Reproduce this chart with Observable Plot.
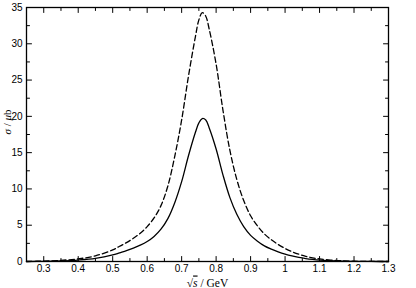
<!DOCTYPE html>
<html>
<head>
<meta charset="utf-8">
<script src="https://cdn.jsdelivr.net/npm/d3@7"></script>
<script src="https://cdn.jsdelivr.net/npm/@observablehq/plot@0.6"></script>
<style>
  html, body { margin: 0; padding: 0; background: white; }
</style>
</head>
<body>
<div id="chart"></div>
<script>
// energies (GeV)
const sqrtS = [0.25, 0.30, 0.35, 0.40, 0.45, 0.50, 0.52, 0.54, 0.56, 0.58, 0.60, 0.62, 0.64, 0.66, 0.68, 0.70, 0.72, 0.74, 0.75, 0.76, 0.77, 0.78, 0.80, 0.82, 0.84, 0.86, 0.88, 0.90, 0.92, 0.94, 0.96, 0.98, 1.00, 1.02, 1.04, 1.06, 1.08, 1.10, 1.15, 1.20, 1.25, 1.30];
// solid curve (μb)
const sigmaSolid = [0.0, 0.03, 0.09, 0.2, 0.42, 0.9, 1.2, 1.5, 1.85, 2.25, 2.75, 3.45, 4.45, 5.9, 8.1, 11.0, 14.6, 17.8, 19.1, 19.7, 19.5, 18.4, 15.5, 11.9, 8.8, 6.5, 4.8, 3.6, 2.8, 2.15, 1.7, 1.33, 1.02, 0.77, 0.57, 0.41, 0.29, 0.2, 0.07, 0.02, 0.005, 0.0];
// dashed curve (μb)
const sigmaDashed = [0.0, 0.06, 0.16, 0.36, 0.78, 1.6, 2.1, 2.6, 3.2, 3.9, 4.8, 6.0, 7.7, 10.4, 14.5, 19.5, 25.6, 31.0, 33.3, 34.3, 33.8, 32.0, 27.2, 20.8, 15.3, 11.3, 8.4, 6.3, 4.9, 3.8, 3.0, 2.35, 1.8, 1.35, 1.0, 0.72, 0.5, 0.35, 0.13, 0.04, 0.01, 0.0];

const xTickLabels = [0.3, 0.4, 0.5, 0.6, 0.7, 0.8, 0.9, 1, 1.1, 1.2, 1.3];
const xMinorTicks = [0.25, 0.35, 0.45, 0.55, 0.65, 0.75, 0.85, 0.95, 1.05, 1.15, 1.25];
const yTickLabels = [0, 5, 10, 15, 20, 25, 30, 35];
const yMinorTicks = [2.5, 7.5, 12.5, 17.5, 22.5, 27.5, 32.5];

const xLabel = "√s / GeV";
const yLabel = "σ / μb";

const rows = sqrtS.map((x, i) => ({x, solid: sigmaSolid[i], dashed: sigmaDashed[i]}));

const tickShape = {draw(context, l) { context.moveTo(0, 0); context.lineTo(0, -l); }};
const xMin = 0.25, xMax = 1.3, yMin = 0, yMax = 35;

function ticks(data, side, len) {
  const o = {length: len, anchor: "start", shape: tickShape, stroke: "black", strokeWidth: 1};
  if (side === "bottom") return Plot.vector(data, {...o, x: d => d, y: () => yMin, rotate: 0});
  if (side === "top") return Plot.vector(data, {...o, x: d => d, y: () => yMax, rotate: 180});
  if (side === "left") return Plot.vector(data, {...o, x: () => xMin, y: d => d, rotate: 90});
  return Plot.vector(data, {...o, x: () => xMax, y: d => d, rotate: -90});
}

const chart = Plot.plot({
  width: 416,
  height: 288,
  marginLeft: 26,
  marginRight: 28,
  marginTop: 7,
  marginBottom: 27,
  style: {fontFamily: "'Liberation Sans', Arial, sans-serif", fontSize: "10px", background: "white", color: "black"},
  x: {domain: [xMin, xMax]},
  y: {domain: [yMin, yMax]},
  marks: [
    Plot.axisX(xTickLabels, {tickSize: 0, tickPadding: 3, tickFormat: d => String(d), label: null}),
    Plot.axisY(yTickLabels, {tickSize: 0, tickPadding: 4, tickFormat: d => String(d), label: null}),
    ticks(xTickLabels, "bottom", 5), ticks(xTickLabels, "top", 5),
    ticks(xMinorTicks, "bottom", 3), ticks(xMinorTicks, "top", 3),
    ticks(yTickLabels, "left", 5), ticks(yTickLabels, "right", 5),
    ticks(yMinorTicks, "left", 3), ticks(yMinorTicks, "right", 3),
    Plot.line(rows, {x: "x", y: "dashed", curve: "catmull-rom", stroke: "black", strokeWidth: 1.3, strokeDasharray: "5.5,3"}),
    Plot.line(rows, {x: "x", y: "solid", curve: "catmull-rom", stroke: "black", strokeWidth: 1.3}),
    Plot.frame({stroke: "black", strokeWidth: 1.3}),
    Plot.text([xLabel], {text: d => d, frameAnchor: "bottom", dy: 25, fontFamily: "'Liberation Serif', 'DejaVu Serif', serif", fontSize: 11.5, lineAnchor: "bottom"}),
    Plot.text([yLabel], {text: d => d, frameAnchor: "left", dx: -19, rotate: -90, fontFamily: "'Liberation Serif', 'DejaVu Serif', serif", fontSize: 11})
  ]
});

d3.select(chart).selectAll("text").each(function() {
  if (this.textContent === xLabel) {
    this.textContent = "";
    const t = d3.select(this);
    t.append("tspan").text("√");
    t.append("tspan").attr("font-style", "italic").style("text-decoration", "overline").text("s");
    t.append("tspan").text(" / GeV");
  } else if (this.textContent === yLabel) {
    this.textContent = "";
    const t = d3.select(this);
    t.append("tspan").attr("font-style", "italic").text("σ");
    t.append("tspan").text(" / ");
    t.append("tspan").attr("font-style", "italic").text("μ");
    t.append("tspan").text("b");
  }
});

document.getElementById("chart").appendChild(chart);
</script>
</body>
</html>
